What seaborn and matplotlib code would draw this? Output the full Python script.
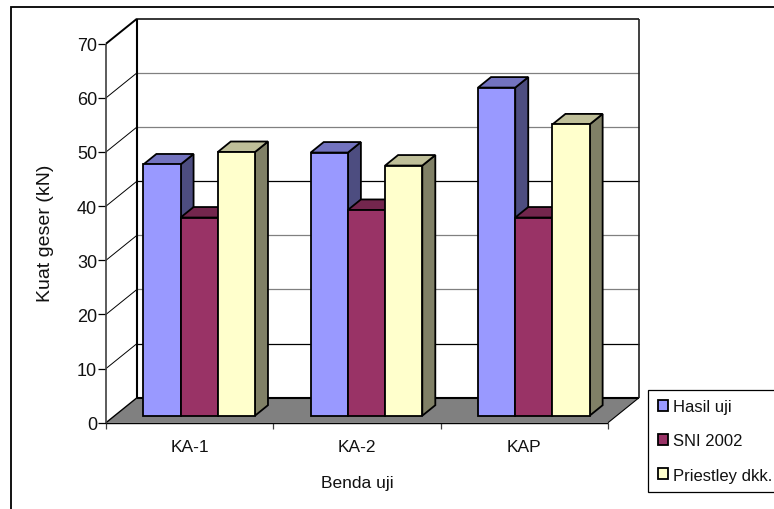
import matplotlib
matplotlib.use("Agg")
import matplotlib.pyplot as plt
import pandas as pd
import seaborn as sns
from matplotlib.colors import to_rgb
from matplotlib.lines import Line2D
from matplotlib.patches import Polygon
from matplotlib.transforms import Affine2D, IdentityTransform

categories = ["KA-1", "KA-2", "KAP"]
hasil_uji = [46.4, 48.6, 60.6]
sni_2002 = [36.6, 38.0, 36.6]
priestley = [48.7, 46.2, 53.8]
series_names = ["Hasil uji", "SNI 2002", "Priestley dkk."]
series_colors = ["#9999FF", "#993366", "#FFFFCC"]
y_ticks = [0, 10, 20, 30, 40, 50, 60, 70]
grid_colors = {10: "#000000", 20: "#808080", 30: "#808080", 40: "#000000",
               50: "#808080", 60: "#808080", 70: "#000000"}

W, H = 774, 510
WALL_DX, WALL_DY = 31, 25    # depth of the floor, px
BAR_DX, BAR_DY = 13, 10.5    # depth of one column, px
INSET_DX, INSET_DY = 9.5, 7  # columns sit this far back from the front edge


def shade(color, factor):
    return tuple(c * factor for c in to_rgb(color))


sns.set_theme(style="white")
plt.rcParams["font.family"] = ["Liberation Sans", "DejaVu Sans"]

frame = pd.DataFrame({
    "Benda uji": categories * 3,
    "Seri": [n for n in series_names for _ in categories],
    "Kuat geser": hasil_uji + sni_2002 + priestley,
})

fig = plt.figure(figsize=(W / 100, H / 100), dpi=100, facecolor="white")
ax = fig.add_axes([106 / W, (H - 423.7) / H, 502 / W, 379 / H])

sns.barplot(data=frame, x="Benda uji", y="Kuat geser", hue="Seri",
            palette=series_colors, hue_order=series_names, order=categories,
            width=0.667, gap=0, saturation=1, edgecolor="black", linewidth=1.3,
            ax=ax, zorder=5)
ax.set_ylim(0, 70)
ax.set_xlim(-0.5, 2.5)
ax.patch.set_alpha(0)
for spine in ax.spines.values():
    spine.set_visible(False)

bars = sorted((b for c in ax.containers for b in c), key=lambda p: p.get_x())

to_px = ax.transData
px = IdentityTransform()


def pixel_line(xs, ys, color="black", lw=1.0, z=1):
    ax.add_line(Line2D(xs, ys, color=color, lw=lw, transform=px, zorder=z,
                       clip_on=False, solid_capstyle="butt"))


x0_px = to_px.transform((-0.5, 0))[0]
x1_px = to_px.transform((2.5, 0))[0]
y0_px = to_px.transform((0, 0))[1]

# Floor of the 3D box
ax.add_patch(Polygon([(x0_px, y0_px), (x1_px, y0_px),
                      (x1_px + WALL_DX, y0_px + WALL_DY),
                      (x0_px + WALL_DX, y0_px + WALL_DY)],
                     closed=True, fc="#808080", ec="none", transform=px,
                     zorder=1, clip_on=False))
pixel_line([x0_px, x1_px], [y0_px, y0_px], lw=1.0, z=2)
pixel_line([x0_px + WALL_DX, x1_px + WALL_DX],
           [y0_px + WALL_DY, y0_px + WALL_DY], lw=1.5, z=2)
pixel_line([x1_px, x1_px + WALL_DX], [y0_px, y0_px + WALL_DY], lw=0.8, z=2)
pixel_line([x0_px, x0_px + WALL_DX], [y0_px, y0_px + WALL_DY], lw=1, z=2)

# Walls and gridlines running around them
for level in y_ticks[1:]:
    y_px = to_px.transform((0, level))[1]
    pixel_line([x0_px, x0_px + WALL_DX], [y_px, y_px + WALL_DY],
               lw=1.4 if level == 70 else 0.7, z=2)
    pixel_line([x0_px + WALL_DX, x1_px + WALL_DX],
               [y_px + WALL_DY, y_px + WALL_DY],
               color=grid_colors[level], lw=1.1 if level == 70 else 0.9, z=2)
top_px = to_px.transform((0, 70))[1]
pixel_line([x0_px, x0_px], [y0_px, top_px], color="#404040", lw=1.2, z=2)
pixel_line([x0_px + WALL_DX, x0_px + WALL_DX],
           [y0_px + WALL_DY, top_px + WALL_DY], lw=1.5, z=2)
pixel_line([x1_px + WALL_DX, x1_px + WALL_DX],
           [y0_px + WALL_DY, top_px + WALL_DY], color="#202020", lw=1.2, z=2)

# Columns: lift each front face back onto the floor, add top and side faces
lift = Affine2D().translate(INSET_DX, INSET_DY)
for order, bar in enumerate(bars):
    z = 5 + order * 0.1
    (xa, ya), (xb, yb) = to_px.transform(
        [(bar.get_x(), 0), (bar.get_x() + bar.get_width(), bar.get_height())])
    xa, xb, ya, yb = xa + INSET_DX, xb + INSET_DX, ya + INSET_DY, yb + INSET_DY
    face = bar.get_facecolor()
    bar.set_transform(bar.get_data_transform() + lift)
    bar.set_zorder(z + 0.02)
    bar.set_clip_on(False)
    bar.set_joinstyle("miter")
    ax.add_patch(Polygon([(xb, ya), (xb + BAR_DX, ya + BAR_DY),
                          (xb + BAR_DX, yb + BAR_DY), (xb, yb)],
                         closed=True, fc=shade(face, 0.5), ec="black", lw=1.3,
                         transform=px, zorder=z, clip_on=False))
    ax.add_patch(Polygon([(xa, yb), (xb, yb), (xb + BAR_DX, yb + BAR_DY),
                          (xa + BAR_DX, yb + BAR_DY)],
                         closed=True, fc=shade(face, 0.75), ec="black", lw=1.3,
                         transform=px, zorder=z, clip_on=False))

# Axes furniture
ax.set_yticks(y_ticks)
ax.set_xticks([-0.5, 0.5, 1.5, 2.5], minor=True)
ax.set_xticks(range(len(categories)), categories)
ax.tick_params(axis="y", which="major", left=True, length=5.5, width=0.9, color="black",
               labelsize=13, labelcolor="#111111", pad=1)
ax.tick_params(axis="x", which="minor", bottom=True, length=4.5, width=0.9,
               color="#404040")
ax.tick_params(axis="x", which="major", bottom=False, labelsize=12.5, labelcolor="#111111",
               pad=5.5)
ax.set_xlabel("")
ax.set_ylabel("")
fig.text(357 / W, 1 - 484 / H, "Benda uji", ha="center", va="center",
         fontsize=12.5, color="#111111")
fig.text(45.5 / W, 1 - 233 / H, "Kuat geser (kN)", ha="center", va="center",
         rotation=90, fontsize=14, color="#111111")

# Outer chart border, open towards the right and the bottom
fig.add_artist(Line2D([11 / W, 11 / W, 1], [0, 1 - 8 / H, 1 - 8 / H],
                      color="black", lw=1.3, solid_joinstyle="miter"))

# Legend box, running up to the right edge
handles, labels = ax.get_legend_handles_labels()
ax.get_legend().remove()
legend = fig.legend(handles, labels, loc="upper left",
                    bbox_to_anchor=(648 / W, 1 - 390.5 / H),
                    bbox_transform=fig.transFigure, borderaxespad=0,
                    frameon=True, fancybox=False, edgecolor="black",
                    facecolor="white", framealpha=1, prop={"size": 12},
                    handlelength=0.6, handleheight=0.6, handletextpad=0.3,
                    labelspacing=1.15, borderpad=0.58)
legend.get_frame().set_linewidth(0.9)
for text in legend.get_texts():
    text.set_color("#111111")

fig.savefig("out.png", dpi=100, facecolor="white")
